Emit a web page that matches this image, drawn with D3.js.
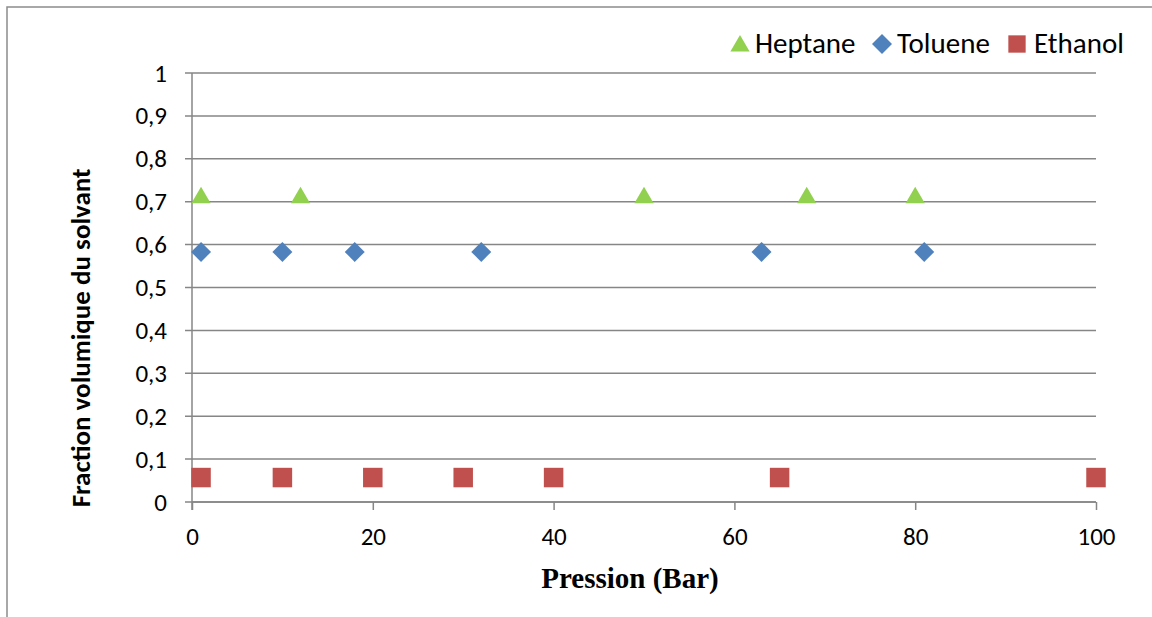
<!DOCTYPE html>
<html><head><meta charset="utf-8">
<script src="https://cdn.jsdelivr.net/npm/d3@7"></script>
<style>body{margin:0;background:#fff}svg{display:block}</style>
</head><body>
<script>
const heptaneX = [1, 12, 50, 68, 80];
const heptaneY = [0.715, 0.715, 0.715, 0.715, 0.715];
const tolueneX = [1, 10, 18, 32, 63, 81];
const tolueneY = [0.583, 0.583, 0.583, 0.583, 0.583, 0.583];
const ethanolX = [1, 10, 20, 30, 40, 65, 100];
const ethanolY = [0.057, 0.057, 0.057, 0.057, 0.057, 0.057, 0.057];
const xTicks = [0, 20, 40, 60, 80, 100];
const yTicks = [0, 0.1, 0.2, 0.3, 0.4, 0.5, 0.6, 0.7, 0.8, 0.9, 1];
const seriesNames = ["Heptane", "Toluene", "Ethanol"];
const seriesColors = ["#92d050", "#4f81bd", "#c0504d"];

const W = 1152, H = 617;
const svg = d3.select("body").append("svg").attr("width", W).attr("height", H);
svg.append("rect").attr("x", 7).attr("y", 7).attr("width", W).attr("height", H)
  .attr("fill", "#fff").attr("stroke", "#8c8c8c").attr("stroke-width", 1.5);

const x = d3.scaleLinear().domain([0, 100]).range([192, 1096]);
const y = d3.scaleLinear().domain([0, 1]).range([502, 73]);
const font = "Carlito, Lato, 'Open Sans', sans-serif";
const gridC = "#868686";

// grid
svg.append("g").selectAll("line").data(yTicks).join("line")
  .attr("x1", x(0) - 7).attr("x2", x(100)).attr("y1", d => y(d)).attr("y2", d => y(d))
  .attr("stroke", gridC).attr("stroke-width", 1.5);

// x axis
const xa = svg.append("g").attr("transform", `translate(0,${y(0)})`)
  .call(d3.axisBottom(x).tickValues(xTicks).tickSize(8).tickFormat(d3.format("d")));
xa.select(".domain").attr("stroke", gridC).attr("stroke-width", 1.5).attr("d", `M${x(0)},0H${x(100)}`);
xa.selectAll(".tick line").attr("stroke", gridC).attr("stroke-width", 1.5);
xa.selectAll("text").attr("font-family", font).attr("font-size", 25).attr("fill", "#000").attr("dy", "1.28em");

// y axis
const ya = svg.append("g").attr("transform", `translate(${x(0)},0)`)
  .call(d3.axisLeft(y).tickValues(yTicks).tickSize(0).tickPadding(25)
    .tickFormat(d => d3.format("")(+d.toFixed(1)).replace(".", ",")));
ya.select(".domain").attr("stroke", gridC).attr("stroke-width", 1.5).attr("d", `M0,${y(1)}V${y(0) + 8}`);
ya.selectAll("text").attr("font-family", font).attr("font-size", 25).attr("fill", "#000");

// axis titles
svg.append("text").attr("x", 630).attr("y", 588).attr("text-anchor", "middle")
  .attr("font-family", "'Liberation Serif', 'Times New Roman', serif").attr("font-weight", "bold")
  .attr("font-size", 29).text("Pression (Bar)");
svg.append("text").attr("transform", "translate(90,338) rotate(-90)").attr("text-anchor", "middle")
  .attr("font-family", font).attr("font-weight", "bold").attr("font-size", 27)
  .text("Fraction volumique du solvant");

const tri = d3.symbol().type(d3.symbolTriangle).size(160);
const dia = d3.symbol().type(d3.symbolSquare).size(200);
const sq = d3.symbol().type(d3.symbolSquare).size(380);

svg.append("g").selectAll("path").data(d3.zip(heptaneX, heptaneY)).join("path")
  .attr("d", tri).attr("transform", d => `translate(${x(d[0])},${y(d[1]) + 2.5})`).attr("fill", seriesColors[0]);
svg.append("g").selectAll("path").data(d3.zip(tolueneX, tolueneY)).join("path")
  .attr("d", dia).attr("transform", d => `translate(${x(d[0])},${y(d[1])}) rotate(45)`).attr("fill", seriesColors[1]);
svg.append("g").selectAll("path").data(d3.zip(ethanolX, ethanolY)).join("path")
  .attr("d", sq).attr("transform", d => `translate(${x(d[0])},${y(d[1])})`).attr("fill", seriesColors[2]);

// legend
const legX = [740, 882, 1017], legTextX = [755, 897, 1034];
const shapes = [tri, dia, d3.symbol().type(d3.symbolSquare).size(300)];
seriesNames.forEach((n, i) => {
  svg.append("path").attr("d", shapes[i])
    .attr("transform", `translate(${legX[i]},${i === 0 ? 46 : 44})` + (i === 1 ? " rotate(45)" : ""))
    .attr("fill", seriesColors[i]);
  svg.append("text").attr("x", legTextX[i]).attr("y", 53).attr("font-family", font)
    .attr("font-size", 29).attr("fill", "#000").text(n);
});
</script>
</body></html>
